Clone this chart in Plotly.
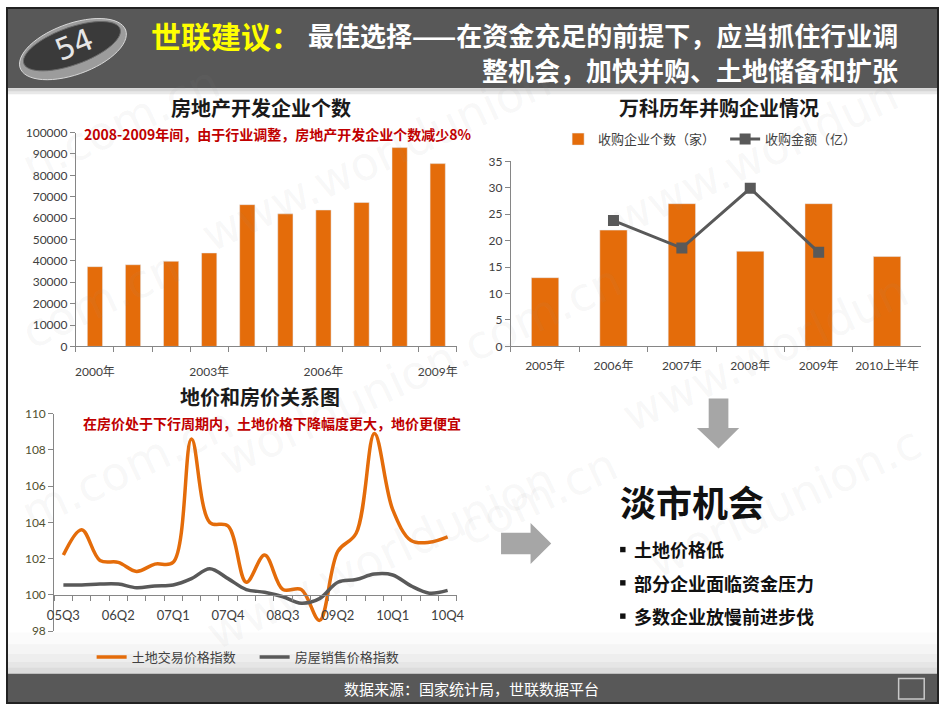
import numpy as np
import plotly.graph_objects as go

W, H = 946, 710

# ---- data ----
years = ['2000年', '2001年', '2002年', '2003年', '2004年',
         '2005年', '2006年', '2007年', '2008年', '2009年']
developers = [37300, 38200, 39800, 43700, 66300, 62000, 63800, 67300, 93000, 85500]

vanke_years = ['2005年', '2006年', '2007年', '2008年', '2009年', '2010上半年']
vanke_deals = [13, 22, 27, 18, 27, 17]
amount_years = ['2006年', '2007年', '2008年', '2009年']
vanke_amount = [23.8, 18.6, 29.9, 17.8]

quarters = ['05Q3', '05Q4', '06Q1', '06Q2', '06Q3', '06Q4', '07Q1', '07Q2',
            '07Q3', '07Q4', '08Q1', '08Q2', '08Q3', '08Q4', '09Q1', '09Q2',
            '09Q3', '09Q4', '10Q1', '10Q2', '10Q3', '10Q4']
land_index = [102.2, 103.6, 101.9, 101.8, 101.3, 101.7, 101.8, 108.6, 104.0, 103.8, 100.7,
              102.2, 100.3, 100.3, 98.6, 102.4, 103.4, 108.9, 104.7, 103.0, 102.9, 103.2]
house_index = [100.55, 100.55, 100.6, 100.6, 100.4, 100.5, 100.55, 100.9, 101.45, 100.9, 100.3,
               100.15, 99.9, 99.55, 99.8, 100.7, 100.85, 101.15, 101.1, 100.5, 100.1, 100.25]

ORANGE = '#E46C0A'
GREY = '#595959'
AX = '#868686'
TICK = '#404040'
RED = '#C00000'
CJK = 'Noto Sans CJK SC'
NUM = 'Lato, Noto Sans CJK SC'


def X(px):
    return px / W


def Y(py):
    return 1 - py / H


def poly(pts):
    return 'M' + ' L'.join('%.5f,%.5f' % (X(a), Y(b)) for a, b in pts) + ' Z'


fig = go.Figure()

# top left: developers
fig.add_trace(go.Bar(x=list(range(len(years))), y=developers, marker_color=ORANGE,
                     showlegend=False, xaxis='x', yaxis='y'))

# top right: vanke
fig.add_trace(go.Bar(x=vanke_years, y=vanke_deals, marker_color=ORANGE,
                     name='收购企业个数（家）', xaxis='x2', yaxis='y2', legend='legend'))
fig.add_trace(go.Scatter(x=amount_years, y=vanke_amount, mode='lines+markers',
                         line=dict(color=GREY, width=3),
                         marker=dict(symbol='square', size=11, color=GREY),
                         name='收购金额（亿）', xaxis='x2', yaxis='y2', legend='legend'))

# bottom left: land vs house price
qx = list(range(len(quarters)))
fig.add_trace(go.Scatter(x=qx, y=land_index, mode='lines',
                         line=dict(color=ORANGE, width=3.5, shape='spline', smoothing=1),
                         name='土地交易价格指数', xaxis='x3', yaxis='y3', legend='legend2'))
fig.add_trace(go.Scatter(x=qx, y=house_index, mode='lines',
                         line=dict(color=GREY, width=3.5, shape='spline', smoothing=1),
                         name='房屋销售价格指数', xaxis='x3', yaxis='y3', legend='legend2'))

tickfont = dict(family=NUM, size=12, color=TICK)
axline = dict(showline=True, linecolor=AX, linewidth=1, showgrid=False, zeroline=False)

fig.update_layout(
    width=W, height=H, autosize=False, margin=dict(l=0, r=0, t=0, b=0),
    paper_bgcolor='white', plot_bgcolor='rgba(0,0,0,0)',
    bargap=0.6,
    xaxis=dict(domain=[X(70), X(457)], range=[-0.5, 9.5], anchor='y',
               tickmode='array', tickvals=[0, 3, 6, 9], ticktext=years[::3],
               ticks='', ticklabelstandoff=14, tickfont=tickfont,
               minor=dict(tickmode='linear', tick0=-0.5, dtick=1, ticks='outside',
                          ticklen=5, tickcolor=AX), **axline),
    yaxis=dict(domain=[Y(345.7), Y(127.3)], range=[0, 100000], dtick=10000, anchor='x',
               tickformat='d', ticks='outside', ticklen=5, tickcolor=AX,
               tickfont=tickfont, **axline),
    xaxis2=dict(domain=[X(512), X(929)], anchor='y2', type='category',
                tickson='boundaries', ticks='outside', ticklen=5, tickcolor=AX,
                tickangle=0, ticklabelstandoff=8, tickfont=tickfont, **axline),
    yaxis2=dict(domain=[Y(345.7), Y(156.7)], range=[0, 35], dtick=5, anchor='x2',
                ticks='outside', ticklen=5, tickcolor=AX, tickfont=tickfont, **axline),
    xaxis3=dict(domain=[X(48), X(457)], range=[-0.5, 21.5], anchor='free',
                position=Y(600), tickmode='array', tickvals=qx[::3], ticktext=quarters[::3],
                ticks='', ticklabelstandoff=8, tickfont=dict(family=NUM, size=13, color=TICK),
                minor=dict(tickmode='linear', tick0=-0.5, dtick=1, ticks='outside',
                           ticklen=5, tickcolor=AX), **axline),
    yaxis3=dict(domain=[Y(636.7), Y(414.3)], range=[98, 110], dtick=2, anchor='x3',
                ticks='outside', ticklen=5, tickcolor=AX,
                tickfont=dict(family=NUM, size=12, color='#505030'), **axline),
    legend=dict(orientation='h', x=X(560), y=Y(134), xanchor='left', yanchor='middle',
                bgcolor='rgba(0,0,0,0)', font=dict(family=NUM, size=13, color=TICK),
                entrywidth=122),
    legend2=dict(orientation='h', x=X(86), y=Y(663), xanchor='left', yanchor='middle',
                 bgcolor='rgba(0,0,0,0)', font=dict(family=NUM, size=13, color=TICK),
                 entrywidth=118),
)

shapes = []
# page decoration
shapes.append(dict(type='rect', xref='paper', yref='paper', x0=0, x1=1, y0=Y(82), y1=1,
                   fillcolor='#585858', line_width=0, layer='below'))
shapes.append(dict(type='rect', xref='paper', yref='paper', x0=0, x1=1, y0=Y(88), y1=Y(82),
                   fillcolor='#e8e8e8', line_width=0, layer='below'))
shapes.append(dict(type='rect', xref='paper', yref='paper', x0=0, x1=1, y0=Y(85), y1=Y(82),
                   fillcolor='#d4d4d4', line_width=0, layer='below'))
for top, col in [(638, '#fbfbfb'), (650, '#f5f5f5'), (660, '#eeeeee'), (668, '#e6e6e6'),
                 (674, '#dcdcdc')]:
    shapes.append(dict(type='rect', xref='paper', yref='paper', x0=0, x1=1, y0=Y(680),
                       y1=Y(top), fillcolor=col, line_width=0, layer='below'))
shapes.append(dict(type='rect', xref='paper', yref='paper', x0=0, x1=1, y0=0, y1=Y(680),
                   fillcolor='#585858', line_width=0, layer='below'))
shapes.append(dict(type='rect', xref='paper', yref='paper', x0=X(906), x1=X(932),
                   y0=Y(706), y1=Y(685), line=dict(color='#c8c8c8', width=1.5)))
shapes.append(dict(type='rect', xref='paper', yref='paper', x0=0, x1=1, y0=0, y1=1,
                   line=dict(color='#222222', width=2)))

# badge ellipse
t = np.linspace(0, 2 * np.pi, 60)
ang = np.deg2rad(20)
for a, b, cx, cy, fill, ln in [(57, 26, 67, 42, '#9c9c9c', '#d8d8d8'),
                               (52, 19, 66, 39, '#3a3a3a', '#6a6a6a')]:
    ex = cx + a * np.cos(t) * np.cos(ang) + b * np.sin(t) * np.sin(ang)
    ey = cy - a * np.cos(t) * np.sin(ang) + b * np.sin(t) * np.cos(ang)
    shapes.append(dict(type='path', xref='paper', yref='paper', path=poly(zip(ex, ey)),
                       fillcolor=fill, line=dict(color=ln, width=1)))

# arrows
shapes.append(dict(type='path', xref='paper', yref='paper', fillcolor='#A6A6A6', line_width=0,
                   path=poly([(713, 399), (733, 399), (733, 429), (744, 429), (723, 450),
                              (701, 429), (713, 429)])))
shapes.append(dict(type='path', xref='paper', yref='paper', fillcolor='#A6A6A6', line_width=0,
                   path=poly([(502, 536), (532, 536), (532, 526), (553, 547), (532, 568),
                              (532, 558), (502, 558)])))
# bullets
for by in [553, 587, 621]:
    shapes.append(dict(type='rect', xref='paper', yref='paper', x0=X(623), x1=X(628.5),
                       y0=Y(by + 3), y1=Y(by - 2.5), fillcolor='#111111', line_width=0))
fig.update_layout(shapes=shapes)


def note(txt, px, py, size, color='#1a1a1a', anchor='center', weight='bold', family=CJK,
         angle=0):
    fig.add_annotation(text=txt, x=X(px), y=Y(py), xref='paper', yref='paper',
                       xanchor=anchor, yanchor='middle', showarrow=False, textangle=angle,
                       borderpad=0, font=dict(family=family, size=size, color=color,
                                              weight=weight))


# watermark fragments
for txt, cx, cy in [('www.worldunion', 375, 153), ('www.worldun', 760, 152),
                    ('n.com.cn', 115, 118), ('com.cn', 95, 298), ('worldunion.com.cn', 420, 370),
                    ('www.worldun', 770, 352), ('m.com.cn', 122, 470),
                    ('www.worldunion', 380, 560), ('worldunion.c', 790, 505),
                    ('com.cn', 540, 500)]:
    note(txt, cx, cy, 46, 'rgba(150,150,150,0.08)', weight='normal',
         family='DejaVu Sans', angle=-25)

note('54', 68, 37, 30, '#e6e6e6', weight='normal', family='DejaVu Sans', angle=-22)
note('世联建议：', 145, 28, 30, '#FFFF00', anchor='left')
note('最佳选择——在资金充足的前提下，应当抓住行业调', 906, 27, 26, 'white', anchor='right')
note('整机会，加快并购、土地储备和扩张', 906, 63, 26, 'white', anchor='right')

note('房地产开发企业个数', 258, 102, 20)
note('2008-2009年间，由于行业调整，房地产开发企业个数减少8%', 275, 129, 14, RED)
note('万科历年并购企业情况', 723, 102, 20)
note('地价和房价关系图', 257, 397, 20)
note('在房价处于下行周期内，土地价格下降幅度更大，地价更便宜', 269, 424, 14, RED)

note('淡市机会', 622, 504, 36, '#111111', anchor='left')
note('土地价格低', 636, 553, 18, '#111111', anchor='left')
note('部分企业面临资金压力', 636, 587, 18, '#111111', anchor='left')
note('多数企业放慢前进步伐', 636, 621, 18, '#111111', anchor='left')

note('数据来源：国家统计局，世联数据平台', 472, 695, 15, 'white', weight='normal')

fig.write_html('out.html', config={'displayModeBar': False, 'responsive': False},
               post_script="document.documentElement.style.margin='0';"
                           "document.body.style.margin='0';"
                           "document.body.style.overflow='hidden';")
